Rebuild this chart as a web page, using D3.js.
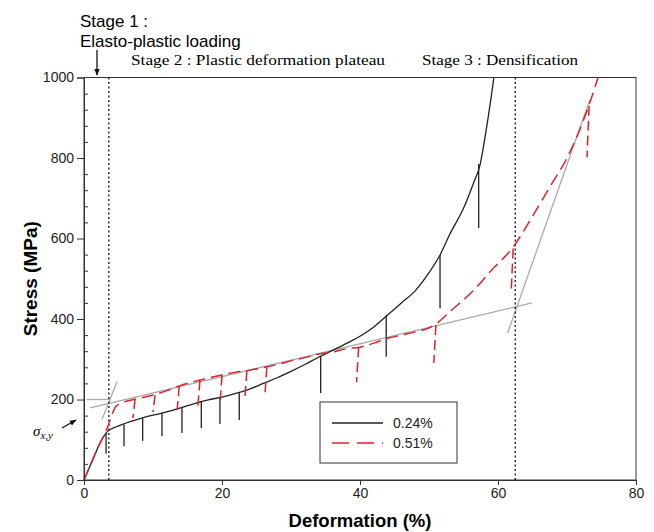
<!DOCTYPE html>
<html>
<head>
<meta charset="utf-8">
<script src="https://cdn.jsdelivr.net/npm/d3@7/dist/d3.min.js"></script>
<style>
body { margin: 0; background: #fff; }
svg { display: block; font-family: "Liberation Sans", Arial, sans-serif; }
</style>
</head>
<body>
<script>
// values (deformation %, stress MPa)

var curve024 = [[0,0],[0.5,20],[1,40],[1.5,60],[2,80],[2.5,98],[3,112],[3.5,122],[4.5,131],
    [6,141],[8,152],[10,161],[12,169],[14,179],[16,190],[18,199],[20,206],[22,215],[24,226],
    [26,240],[28,254],[30,270],[32,287],[34,305],[36,322],[38,339],[40,357],[42,380],[44,410],
    [46,440],[48,470],[50,515],[51.6,559],[53,610],[55,675],[56.5,740],[57.4,783],[58.2,860],
    [59,950],[59.4,1000]]

var curve051 = [[0,0],[1,40],[2,80],[3,115],[3.5,135],[4,160],[4.5,180],[5.2,190],[6,195],
    [8,203],[10,211],[12,222],[14,235],[16,245],[18,253],[20,261],[22,268],[24,273],[26,279],
    [28,287],[30,296],[32,304],[34,313],[36,318],[38,326],[40,330],[42,340],[44,352],[46,360],
    [48,368],[50,378],[51.2,390],[53,418],[56.4,470],[59,520],[62.2,579],[65,655],[67.5,728],
    [70,800],[73.3,937],[74.5,1000]]

// unloading drops: [deformation, top, bottom]
var drops024 = [[3.2,116,65],[5.8,138,84],[8.5,154,97],[11.3,166,109],[14.2,179,117],
    [17.0,195,129],[19.7,205,139],[22.5,218,149],[34.3,306,216],[43.8,410,306],
    [51.6,559,427],[57.2,785,626]]

var drops051 = [[7.1,201,154],[10.0,211,169],[13.5,233,174],[16.5,247,181],[19.7,260,186],
    [23.3,271,199],[26.2,280,206],[39.5,330,243],[50.7,385,291],[61.9,575,464],[72.9,930,802]]

// grey construction lines
var guides = [
    [[0.4,200],[3.8,200]],
    [[2.6,150],[4.8,245]],
    [[0.9,179],[64.9,440]],
    [[61.4,365],[73.3,944]]
]

var stageLines = [3.6, 62.5]

var xTicks = [0, 20, 40, 60, 80]
var yTicks = [0, 200, 400, 600, 800, 1000]
var yMinor = d3.range(40, 1000, 40).filter(function(d) { return d % 200 != 0 })

var seriesNames = ["0.24%", "0.51%"]

//setup SVG

var w = 654
var h = 532
var mLeft = 84, mRight = 636, mTop = 77.5, mBottom = 480

var svg = d3.select("body")
    .append("svg")
    .attr("width", w)
    .attr("height", h)

var x = d3.scaleLinear().domain([0, 80]).range([mLeft, mRight])
var y = d3.scaleLinear().domain([0, 1000]).range([mBottom, mTop])

var line = d3.line()
    .x(function(d) { return x(d[0]) })
    .y(function(d) { return y(d[1]) })

var smooth = d3.line()
    .curve(d3.curveMonotoneX)
    .x(function(d) { return x(d[0]) })
    .y(function(d) { return y(d[1]) })

svg.append("defs").append("marker")
    .attr("id", "arr")
    .attr("viewBox", "0 0 10 10")
    .attr("refX", 9).attr("refY", 5)
    .attr("markerWidth", 7).attr("markerHeight", 7)
    .attr("markerUnits", "userSpaceOnUse")
    .attr("orient", "auto")
    .append("path")
    .attr("d", "M0,1 L10,5 L0,9 Z")
    .attr("fill", "#111")

// frame
svg.append("rect")
    .attr("x", mLeft).attr("y", mTop)
    .attr("width", mRight - mLeft).attr("height", mBottom - mTop)
    .attr("fill", "none")
    .attr("stroke", "#333")

// grey guides
guides.forEach(function(g) {
    svg.append("path")
        .attr("d", line(g))
        .attr("fill", "none")
        .attr("stroke", "#aaa")
        .attr("stroke-width", 1.3)
})

// dotted stage separators
svg.selectAll(".stage")
    .data(stageLines)
    .enter().append("line")
    .attr("x1", function(d) { return x(d) })
    .attr("x2", function(d) { return x(d) })
    .attr("y1", y(0)).attr("y2", y(1000))
    .attr("stroke", "#111")
    .attr("stroke-width", 1.3)
    .attr("stroke-dasharray", "2,2.5")

// curves
svg.append("path")
    .attr("d", smooth(curve024))
    .attr("fill", "none")
    .attr("stroke", "#222")
    .attr("stroke-width", 1.3)

svg.selectAll(".drop024")
    .data(drops024)
    .enter().append("line")
    .attr("x1", function(d) { return x(d[0]) })
    .attr("x2", function(d) { return x(d[0]) })
    .attr("y1", function(d) { return y(d[1]) })
    .attr("y2", function(d) { return y(d[2]) })
    .attr("stroke", "#222")
    .attr("stroke-width", 1.3)

svg.append("path")
    .attr("d", smooth(curve051))
    .attr("fill", "none")
    .attr("stroke", "#e0202c")
    .attr("stroke-width", 1.5)
    .attr("stroke-dasharray", "12,6")

svg.selectAll(".drop051")
    .data(drops051)
    .enter().append("line")
    .attr("x1", function(d) { return x(d[0] + 0.3) })
    .attr("x2", function(d) { return x(d[0]) })
    .attr("y1", function(d) { return y(d[1]) })
    .attr("y2", function(d) { return y(d[2]) })
    .attr("stroke", "#e0202c")
    .attr("stroke-width", 1.5)
    .attr("stroke-dasharray", "10,5")

// axes
svg.append("g")
    .attr("transform", "translate(" + mLeft + ",0)")
    .call(d3.axisLeft(y).tickValues(yTicks).tickSize(7).tickPadding(3).tickFormat(d3.format("d")))
svg.append("g")
    .attr("transform", "translate(" + mLeft + ",0)")
    .call(d3.axisRight(y).tickValues(yMinor).tickSize(4).tickFormat(""))
    .select(".domain").remove()

svg.append("g")
    .attr("transform", "translate(0," + mBottom + ")")
    .call(d3.axisBottom(x).tickValues(xTicks).tickSize(5).tickPadding(3))

svg.selectAll(".tick text")
    .attr("font-size", 14)
    .attr("font-family", "Liberation Sans, Arial, sans-serif")
    .attr("fill", "#222")
svg.selectAll(".domain, .tick line").attr("stroke", "#333")

svg.append("text")
    .attr("transform", "translate(37," + ((mTop + mBottom) / 2) + ") rotate(-90)")
    .attr("text-anchor", "middle")
    .attr("font-weight", "bold")
    .attr("font-size", 19)
    .text("Stress (MPa)")

svg.append("text")
    .attr("x", (mLeft + mRight) / 2)
    .attr("y", 527)
    .attr("text-anchor", "middle")
    .attr("font-weight", "bold")
    .attr("font-size", 18.5)
    .text("Deformation (%)")

// stage annotations
svg.append("text").attr("x", 80).attr("y", 27).attr("font-size", 17).text("Stage 1 :")
svg.append("text").attr("x", 80).attr("y", 47).attr("font-size", 17).text("Elasto-plastic loading")
svg.append("line")
    .attr("x1", 97).attr("y1", 50)
    .attr("x2", 97).attr("y2", 75)
    .attr("stroke", "#111")
    .attr("stroke-width", 1.3)
    .attr("marker-end", "url(#arr)")

svg.append("text").attr("x", 131).attr("y", 65)
    .attr("font-family", "Liberation Serif, Times New Roman, serif")
    .attr("font-size", 15.5)
    .attr("textLength", 254)
    .attr("lengthAdjust", "spacingAndGlyphs")
    .text("Stage 2 : Plastic deformation plateau")
svg.append("text").attr("x", 422).attr("y", 65)
    .attr("font-family", "Liberation Serif, Times New Roman, serif")
    .attr("font-size", 15.5)
    .attr("textLength", 156)
    .attr("lengthAdjust", "spacingAndGlyphs")
    .text("Stage 3 : Densification")

// sigma label
var sig = svg.append("text").attr("x", 33).attr("y", 436)
    .attr("font-family", "Liberation Serif, Times New Roman, serif")
    .attr("font-style", "italic")
    .attr("font-size", 15)
sig.append("tspan").text("σ")
sig.append("tspan").attr("dy", 3).attr("font-size", 11).text("x,y")
svg.append("line")
    .attr("x1", 62).attr("y1", 428)
    .attr("x2", 76).attr("y2", 420)
    .attr("stroke", "#111")
    .attr("stroke-width", 1.2)
    .attr("marker-end", "url(#arr)")

// legend
var lg = svg.append("g")
lg.append("rect")
    .attr("x", 320).attr("y", 402)
    .attr("width", 137).attr("height", 61)
    .attr("fill", "#fff")
    .attr("stroke", "#333")

lg.append("line")
    .attr("x1", 332).attr("x2", 383).attr("y1", 423).attr("y2", 423)
    .attr("stroke", "#222").attr("stroke-width", 1.3)
lg.append("line")
    .attr("x1", 332).attr("x2", 383).attr("y1", 443).attr("y2", 443)
    .attr("stroke", "#e0202c").attr("stroke-width", 1.5)
    .attr("stroke-dasharray", "17,8")

lg.selectAll(".lab")
    .data(seriesNames)
    .enter().append("text")
    .attr("x", 393)
    .attr("y", function(d, i) { return 428 + i * 20 })
    .attr("font-size", 14)
    .attr("fill", "#222")
    .text(function(d) { return d })
</script>
</body>
</html>
